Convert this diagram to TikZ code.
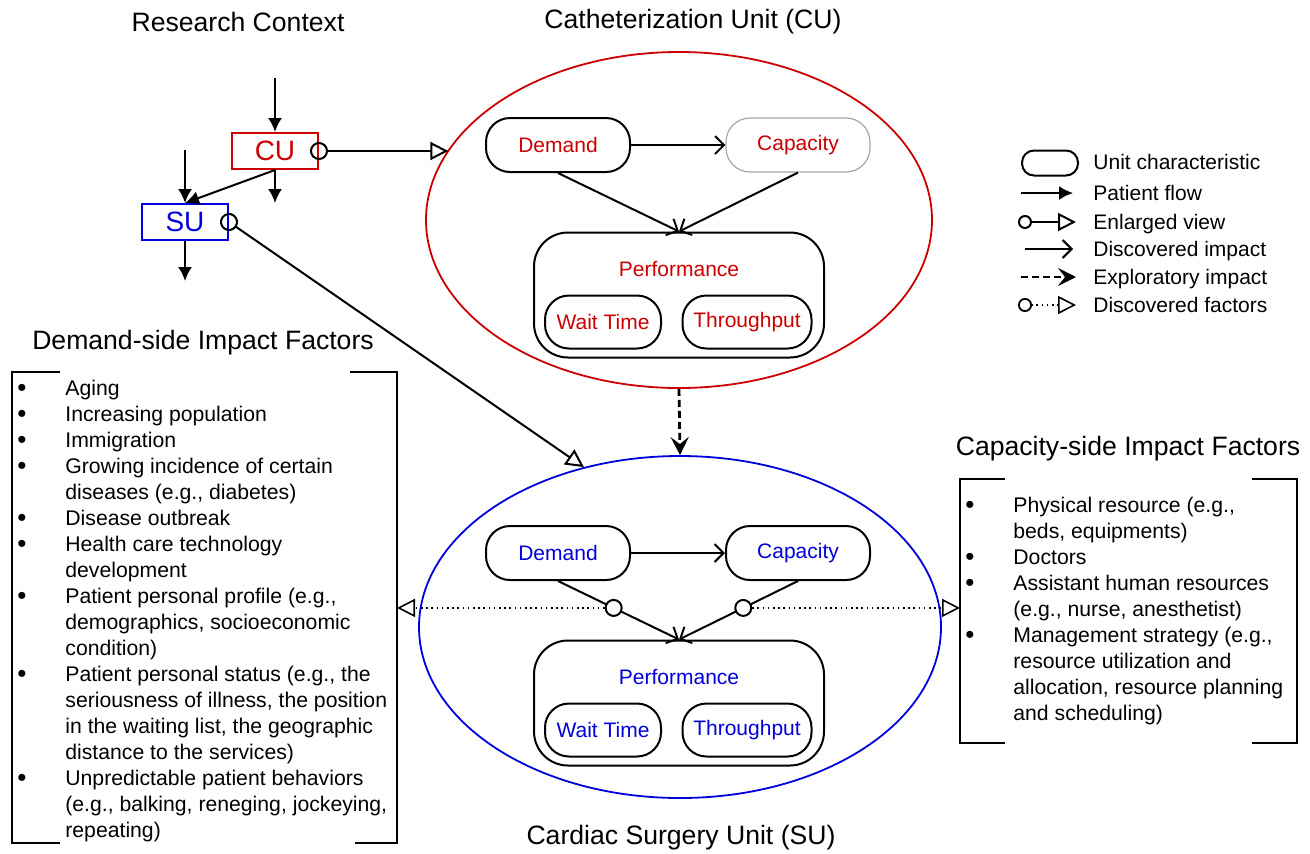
\documentclass[tikz,border=0pt]{standalone}
\usepackage{fontspec}
\setmainfont{Liberation Sans}
\usetikzlibrary{arrows.meta,calc,shapes.geometric}

\definecolor{cured}{RGB}{204,0,0}
\definecolor{subue}{RGB}{0,0,220}

\newcommand{\fbul}{\raisebox{-0.6pt}{\fontsize{13}{13}\selectfont\textbullet}}

\begin{document}
\begin{tikzpicture}[x=0.5pt, y=-0.5pt,
        every node/.style={font=\fontsize{10.5}{12.6}\selectfont, inner sep=0pt},
        title/.style={font=\fontsize{13.3}{16}\selectfont},
        unitbox/.style={draw, line width=1pt, rounded corners=12pt, minimum width=72pt, minimum height=27pt},
        unitname/.style={line width=1pt, minimum width=43pt, minimum height=18pt, font=\fontsize{14}{16}\selectfont},
        factorlist/.style={anchor=north west, font=\fontsize{10.6}{13}\selectfont},
        flow/.style={line width=1pt, -{Latex[length=7pt,width=7pt]}},
        enlarge/.style={line width=1pt, shorten <=-4.5pt, {Circle[open,length=9pt,width=9pt]}-{Triangle[open,length=9pt,width=9pt]}},
        impact/.style={line width=1pt, -{Straight Barb[length=4.5pt,width=9pt]}},
        explore/.style={line width=1.4pt, dash pattern=on 3.5pt off 2pt, -{Stealth[length=9pt,width=9pt,inset=3.5pt]}},
        factor/.style={line width=0.8pt, dash pattern=on 0.8pt off 1.8pt, -{Triangle[open,length=9pt,width=9pt]}},
        hook/.style={draw, fill=white, line width=1pt, circle, minimum size=8pt}]

    \useasboundingbox (0,0) rectangle (1310,853);

    % Titel
    \node[title] (rctitle) at (238,22) {Research Context};
    \node[title] (cutitle) at (693,22) {Catheterization Unit (CU)};
    \node[title] (sutitle) at (681,838) {Cardiac Surgery Unit (SU)};
    \node[title] (dtitle) at (203,343) {Demand-side Impact Factors};
    \node[title] (ctitle) at (1128,449) {Capacity-side Impact Factors};

    % Research Context
    \begin{scope}
        \node[unitname, draw=cured, text=cured] (cu) at (275,151) {CU};
        \node[unitname, draw=subue, text=subue] (su) at (185,222) {SU};

        \coordinate (cuin) at (275,78);
        \coordinate (cuout) at (275,203);
        \coordinate (suin) at (185,150);
        \coordinate (suout) at (185,281);

        \draw[flow] (cuin) -- (cu);
        \draw[flow] (cu) -- (cuout);
        \draw[flow] (suin) -- (su);
        \draw[flow] (cu.south) -- (su.north);
        \draw[flow] (su) -- (suout);
    \end{scope}

    % CU
    \begin{scope}
        \node[ellipse, draw=cured, line width=0.9pt, minimum width=253pt, minimum height=168pt] (cuunit) at (679,220) {};

        \node[unitbox, text=cured] (cdem) at (558,145) {Demand};
        \node[unitbox, draw=gray!70, line width=0.6pt, text=cured] (ccap) at (798,145) {Capacity};
        \node[unitbox, minimum width=145pt, minimum height=62.5pt, rounded corners=17pt] (cperf) at (679,295) {};
        \node[text=cured] (cperft) at (679,269) {Performance};
        \node[unitbox, minimum width=58pt, minimum height=26.5pt, text=cured] (cwait) at (603,322) {Wait Time};
        \node[unitbox, minimum width=64.5pt, minimum height=26.5pt, text=cured] (cthr) at (747,322) {Throughput};

        \draw[impact] (cdem.east) -- (ccap.west);
        \draw[impact] (cdem.south) -- (cperf.north);
        \draw[impact] (ccap.south) -- (cperf.north);
    \end{scope}

    % SU
    \begin{scope}
        \node[ellipse, draw=subue, line width=0.9pt, minimum width=261pt, minimum height=171pt] (suunit) at (680,627) {};

        \node[unitbox, text=subue] (sdem) at (558,553) {Demand};
        \node[unitbox, text=subue] (scap) at (798,553) {Capacity};
        \node[unitbox, minimum width=145pt, minimum height=62.5pt, rounded corners=17pt] (sperf) at (679,703) {};
        \node[text=subue] (sperft) at (679,677) {Performance};
        \node[unitbox, minimum width=58pt, minimum height=26.5pt, text=subue] (swait) at (603,730) {Wait Time};
        \node[unitbox, minimum width=64.5pt, minimum height=26.5pt, text=subue] (sthr) at (747,730) {Throughput};

        \draw[impact] (sdem.east) -- (scap.west);
        \draw[impact] (sdem.south) -- (sperf.north);
        \draw[impact] (scap.south) -- (sperf.north);

        \node[hook] (fdem) at ($(sdem.south)!0.46!(sperf.north)$) {};
        \node[hook] (fcap) at ($(scap.south)!0.46!(sperf.north)$) {};
    \end{scope}

    % Vergroesserung
    \draw[enlarge] (cu.east) -- (cu.east -| cuunit.163);
    \draw[enlarge] (su.east) -- (suunit.121);
    \draw[explore] (cuunit.south) -- (suunit.north);

    % Demand-side
    \begin{scope}
        \draw[line width=1pt] (60,372) -- (12,372) -- (12,843) -- (60,843);
        \draw[line width=1pt] (350,372) -- (397,372) -- (397,843) -- (355,843);
        \coordinate (lbrk) at (397,608);

        \node[factorlist] (dlist) at (17,377) {\begin{tabular}{@{}p{24pt}@{}l@{}}
            \fbul & Aging\\
            \fbul & Increasing population\\
            \fbul & Immigration\\
            \fbul & Growing incidence of certain\\
                  & diseases (e.g., diabetes)\\
            \fbul & Disease outbreak\\
            \fbul & Health care technology\\
                  & development\\
            \fbul & Patient personal profile (e.g.,\\
                  & demographics, socioeconomic\\
                  & condition)\\
            \fbul & Patient personal status (e.g., the\\
                  & seriousness of illness, the position\\
                  & in the waiting list, the geographic\\
                  & distance to the services)\\
            \fbul & Unpredictable patient behaviors\\
                  & (e.g., balking, reneging, jockeying,\\
                  & repeating)
        \end{tabular}};
    \end{scope}

    % Capacity-side
    \begin{scope}
        \draw[line width=1pt] (1005,479) -- (960,479) -- (960,743) -- (1005,743);
        \draw[line width=1pt] (1252,479) -- (1297,479) -- (1297,743) -- (1252,743);
        \coordinate (rbrk) at (960,608);

        \node[factorlist] (clist) at (965,494) {\begin{tabular}{@{}p{24pt}@{}l@{}}
            \fbul & Physical resource (e.g.,\\
                  & beds, equipments)\\
            \fbul & Doctors\\
            \fbul & Assistant human resources\\
                  & (e.g., nurse, anesthetist)\\
            \fbul & Management strategy (e.g.,\\
                  & resource utilization and\\
                  & allocation, resource planning\\
                  & and scheduling)
        \end{tabular}};
    \end{scope}

    % Discovered factors
    \draw[factor] (fdem.west) -- (fdem.west -| lbrk);
    \draw[factor] (fcap.east) -- (fcap.east -| rbrk);

    % Legende
    \begin{scope}
        \node[unitbox, minimum width=28pt, minimum height=12.5pt, rounded corners=6pt] (lgunit) at (1050,163) {};

        \coordinate (lga1) at (1021,193); \coordinate (lgb1) at (1073,193);
        \coordinate (lga2) at (1025,222); \coordinate (lgb2) at (1076,222);
        \coordinate (lga3) at (1025,249); \coordinate (lgb3) at (1073,249);
        \coordinate (lga4) at (1021,277); \coordinate (lgb4) at (1076,277);
        \coordinate (lga5) at (1025,305); \coordinate (lgb5) at (1076,305);

        \draw[flow] (lga1) -- (lgb1);
        \draw[enlarge, shorten <=-3.5pt, {Circle[open,length=7pt,width=7pt]}-{Triangle[open,length=9pt,width=9pt]}] (lga2) -- (lgb2);
        \draw[impact] (lga3) -- (lgb3);
        \draw[explore] (lga4) -- (lgb4);
        \draw[factor, shorten <=-3.5pt, {Circle[open,length=7pt,width=7pt,line width=0.9pt]}-{Triangle[open,length=9pt,width=9pt]}] (lga5) -- (lgb5);

        \node[anchor=base west] (lgt1) at (1093,169) {Unit characteristic};
        \node[anchor=base west] (lgt2) at (1093,200) {Patient flow};
        \node[anchor=base west] (lgt3) at (1093,229) {Enlarged view};
        \node[anchor=base west] (lgt4) at (1093,256) {Discovered impact};
        \node[anchor=base west] (lgt5) at (1093,284) {Exploratory impact};
        \node[anchor=base west] (lgt6) at (1093,312) {Discovered factors};
    \end{scope}

\end{tikzpicture}
\end{document}
